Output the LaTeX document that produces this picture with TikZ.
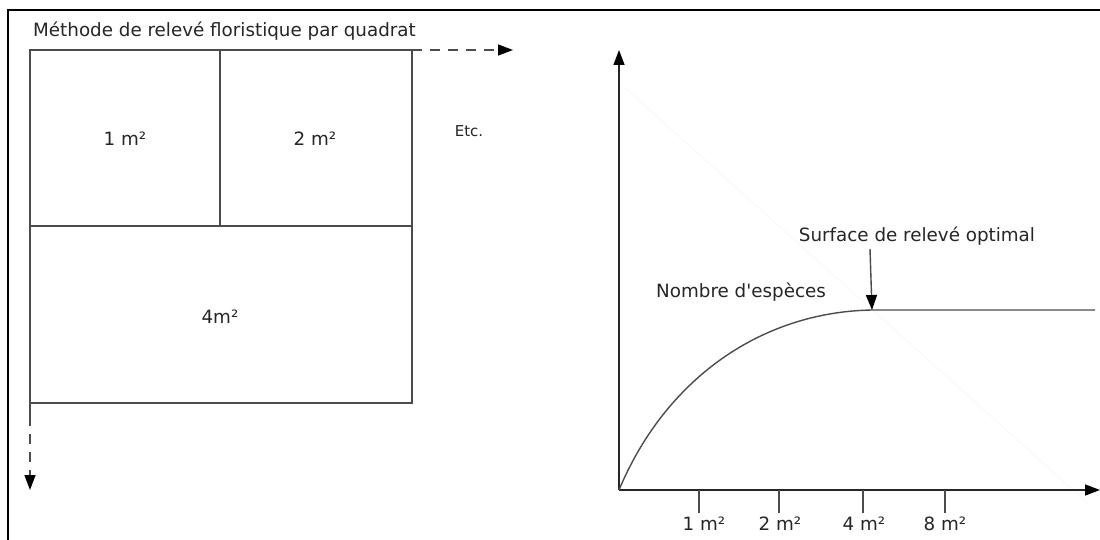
\documentclass[tikz,border=0pt]{standalone}
\usepackage{fontspec}
\setmainfont{DejaVu Sans}[Ligatures=TeXOff]
\usetikzlibrary{arrows.meta}
\begin{document}
\begin{tikzpicture}[x=1pt,y=-1pt,
  lbl/.style={font=\fontsize{18.3}{20}\selectfont, inner sep=0pt, text=black!85},
  small/.style={font=\fontsize{15}{17}\selectfont, inner sep=0pt, text=black!85},
  ln/.style={draw=black!70, line width=1.4pt},
  frame/.style={draw=black, line width=2pt},
  arr/.style={-{Triangle[length=15pt,width=11pt,color=black]}},
  dsh/.style={ln, dash pattern=on 10pt off 8pt}]
\useasboundingbox (0,0) rectangle (1100,540);
\fill[white] (0,0) rectangle (1100,540);
% frame
\draw[frame] (8,540) -- (8,10) -- (1100,10);
% faint diagonal
\draw[black!3, line width=0.8pt] (625,88) -- (1090,505);
% title
\node[lbl, anchor=base west] (title) at (33,37) {Méthode de relevé floristique par quadrat};
% quadrat
\coordinate (qa) at (30,50);
\coordinate (qb) at (412,50);
\coordinate (qc) at (412,403);
\coordinate (qd) at (30,403);
\coordinate (qm1) at (220,50);
\coordinate (qm2) at (220,226);
\coordinate (ql) at (30,226);
\coordinate (qr) at (412,226);
\draw[ln] (qa) rectangle (qc);
\draw[ln] (qm1) -- (qm2);
\draw[ln] (ql) -- (qr);
\coordinate (qdx) at (30,416);
\draw[ln] (qd) -- (qdx);
\coordinate (downtip) at (30,490);
\draw[dsh, arr] (qdx) -- (downtip);
\coordinate (righttip) at (513,50);
\draw[dsh, arr] (qb) -- (righttip);
\node[lbl] (q1) at (125,139) {1 m²};
\node[lbl] (q2) at (315,139) {2 m²};
\node[lbl] (q4) at (220,317) {4m²};
\node[small] (etc) at (469,131) {Etc.};
% graph
\coordinate (o) at (619,490);
\coordinate (ytip) at (619,50);
\coordinate (xtip) at (1100,490);
\draw[ln, draw=black!85, arr] (o) -- (ytip);
\draw[ln, draw=black!85, arr] (o) -- (xtip);
\draw[draw=black!85, line width=2pt] (o) -- (663,490);
\foreach \x/\n in {699/t1,779/t2,863/t3,945/t4}{
  \coordinate (\n a) at (\x,490);
  \coordinate (\n b) at (\x,513);
  \draw[ln] (\n a) -- (\n b);
}
\node[lbl] (l1) at (704,524) {1 m²};
\node[lbl] (l2) at (780,524) {2 m²};
\node[lbl] (l3) at (864,524) {4 m²};
\node[lbl] (l4) at (945,524) {8 m²};
% curve
\coordinate (cp) at (872,310);
\coordinate (cend) at (1095,310);
\draw[ln] (o) .. controls (665,380) and (760,312) .. (cp) -- (cend);
\node[lbl] (surf) at (917,236) {Surface de relevé optimal};
\node[lbl, anchor=west] (nb) at (656,292) {Nombre d'espèces};
\coordinate (arrs) at (870,249);
\draw[ln, arr] (arrs) -- (cp);
\end{tikzpicture}
\end{document}
